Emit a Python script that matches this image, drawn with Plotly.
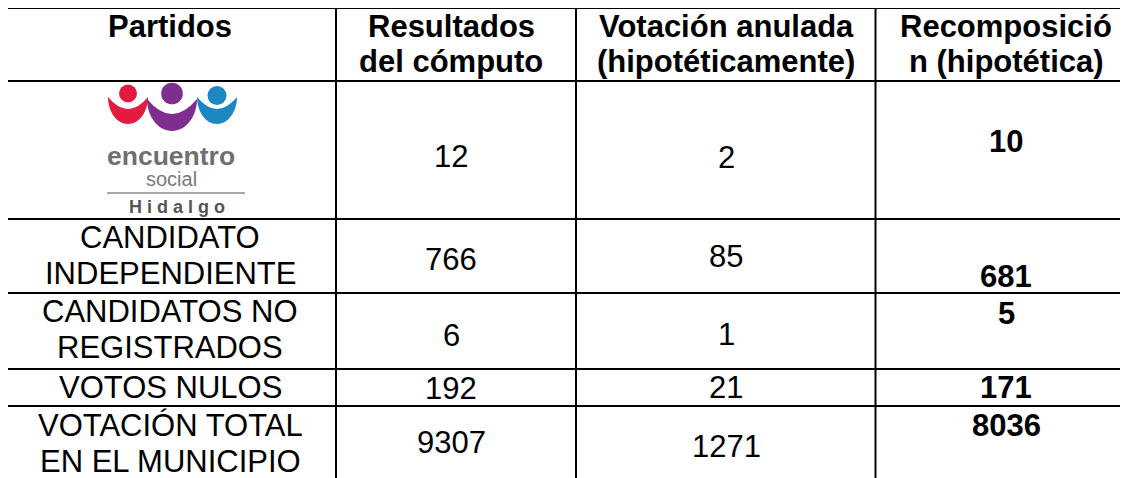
import plotly.graph_objects as go

# ---------------- data ----------------
headers = ["Partidos", "Resultados<br>del cómputo",
           "Votación anulada<br>(hipotéticamente)", "Recomposició<br>n (hipotética)"]
partidos = ["encuentro social Hidalgo", "CANDIDATO<br>INDEPENDIENTE",
            "CANDIDATOS NO<br>REGISTRADOS", "VOTOS NULOS",
            "VOTACIÓN TOTAL<br>EN EL MUNICIPIO"]
resultados = [12, 766, 6, 192, 9307]
anulada = [2, 85, 1, 21, 1271]
recomposicion = [10, 681, 5, 171, 8036]

# ---------------- layout constants ----------------
W, H = 1128, 478
PAGE_MARGIN = 8          # default body margin of the html page
col_edges = [6.5, 336, 576, 875.5, 1139]
row_edges = [8, 81, 219, 293, 369, 406, 560]
col_text_x = [170, 451, 726, 1006]
header_line_y = [26, 61]
line_gap = 36.5
# vertical centre of each value in each body row (cell alignment quirks)
name_y = [None, 237, 311, 387, 425]
res_y = [156, 259, 335, 388, 442]
anu_y = [157, 256, 334, 387, 446]
rec_y = [141, 276, 313, 387, 425]

FONT = "Arial, 'Liberation Sans', sans-serif"
HFS = 31   # header font size
BFS = 31   # body font size

fig = go.Figure()
fig.add_trace(go.Scatter(x=[PAGE_MARGIN, W], y=[PAGE_MARGIN, H], mode="markers",
                         marker=dict(opacity=0), hoverinfo="skip", showlegend=False))

shapes = []
# grid lines
for x in col_edges:
    shapes.append(dict(type="line", xref="x", yref="y", x0=x, x1=x,
                       y0=row_edges[0], y1=row_edges[-1],
                       line=dict(color="black", width=2)))
for y in row_edges[:-1]:
    shapes.append(dict(type="line", xref="x", yref="y", x0=col_edges[0], x1=col_edges[-1],
                       y0=y, y1=y, line=dict(color="black", width=2)))


def crescent(cx, w, t, b, bi):
    k = 0.552
    h = b - t
    return (f"M {cx-w},{t} C {cx-w},{t+k*h} {cx-k*w},{b} {cx},{b} "
            f"C {cx+k*w},{b} {cx+w},{t+k*h} {cx+w},{t} "
            f"Q {cx},{2*bi-t} {cx-w},{t} Z")


# logo of "encuentro social Hidalgo"
logo_figs = [  # (head cx, head cy, head r, body w, body top, body bottom, inner, colour)
    (128, 93.5, 9.0, 20, 97, 124, 109, "#e31b3f"),
    (172, 93.5, 10.8, 25, 99, 131, 114, "#7d2e8f"),
    (217, 95.5, 9.5, 20, 97, 124, 109, "#1c87c1"),
]
for cx, cy, r, w, t, b, bi, c in logo_figs:
    shapes.append(dict(type="circle", xref="x", yref="y", x0=cx - r, x1=cx + r,
                       y0=cy - r, y1=cy + r, fillcolor=c, line=dict(width=0)))
    shapes.append(dict(type="path", xref="x", yref="y", path=crescent(cx, w, t, b, bi),
                       fillcolor=c, line=dict(width=0)))
shapes.append(dict(type="line", xref="x", yref="y", x0=107, x1=245, y0=193, y1=193,
                   line=dict(color="#a8a8a8", width=2)))

annotations = []


def add_text(x, y, text, size, bold=False, color="black", family=FONT):
    annotations.append(dict(x=x, y=y, xref="x", yref="y", showarrow=False,
                            text=f"<b>{text}</b>" if bold else text,
                            xanchor="center", yanchor="middle",
                            font=dict(family=family, size=size, color=color)))


# headers
for i, h in enumerate(headers):
    for j, line in enumerate(h.split("<br>")):
        add_text(col_text_x[i], header_line_y[j], line, HFS, bold=True)

# logo texts
logo_words = partidos[0].split(" ")
add_text(171, 156, logo_words[0], 26.5, bold=True, color="#6e6f72")
add_text(171, 179, logo_words[1], 20, color="#7a7a7a")
add_text(177, 206.5, "\u00a0".join(logo_words[2]), 18, bold=True, color="#555555")

# body rows
for r in range(1, len(partidos)):
    lines = partidos[r].split("<br>")
    for j, line in enumerate(lines):
        add_text(col_text_x[0], name_y[r] + j * line_gap, line, BFS)
for r in range(len(partidos)):
    add_text(col_text_x[1], res_y[r], str(resultados[r]), BFS)
    add_text(col_text_x[2], anu_y[r], str(anulada[r]), BFS)
    add_text(col_text_x[3], rec_y[r], str(recomposicion[r]), BFS, bold=True)

# the page adds an 8px body margin, so the figure covers screen pixels 8..W, 8..H
fig.update_layout(
    width=W - PAGE_MARGIN, height=H - PAGE_MARGIN, margin=dict(l=0, r=0, t=0, b=0),
    paper_bgcolor="white", plot_bgcolor="white",
    xaxis=dict(range=[PAGE_MARGIN, W], visible=False, fixedrange=True),
    yaxis=dict(range=[H, PAGE_MARGIN], visible=False, fixedrange=True),
    shapes=shapes, annotations=annotations, showlegend=False,
)

fig.write_html("out.html")
